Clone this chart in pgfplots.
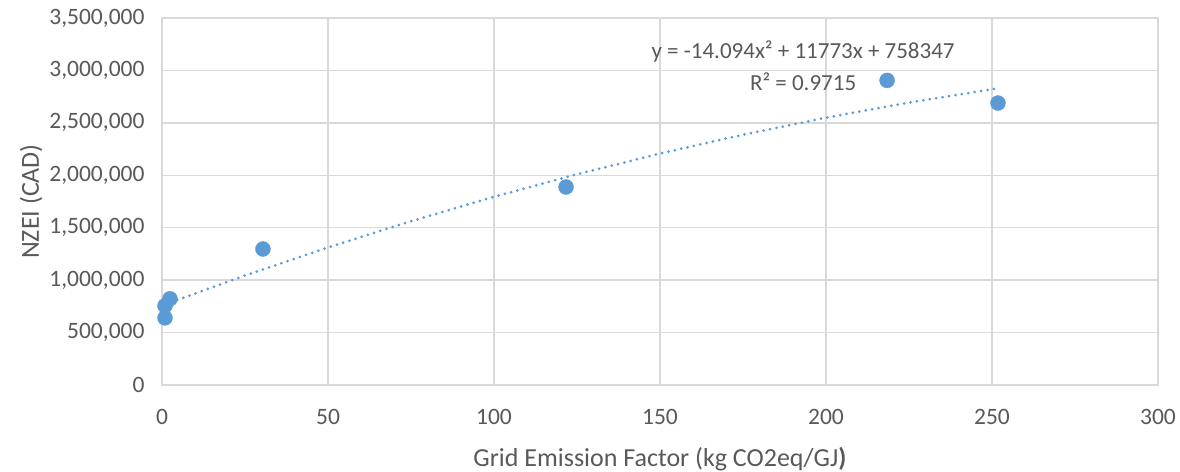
\documentclass[border=0pt]{standalone}
\usepackage{pgfplots}
\pgfplotsset{compat=1.18}
\usepackage{fontspec}
\setmainfont{Carlito}
\definecolor{txt}{HTML}{595959}
\definecolor{gridc}{HTML}{D9D9D9}
\definecolor{ptc}{HTML}{5B9BD5}
\begin{document}
\begin{tikzpicture}[x=1pt,y=1pt]
\useasboundingbox (0,0) rectangle (1180,471);
\begin{axis}[
  at={(162pt,86pt)}, anchor=south west,
  scale only axis, width=996pt, height=367pt,
  xmin=0, xmax=300, ymin=0, ymax=3500000,
  xtick={0,50,...,300},
  ytick={0,500000,...,3500000},
  scaled y ticks=false,
  /pgf/number format/assume math mode=true,
  yticklabel style={/pgf/number format/fixed,/pgf/number format/1000 sep={,}},
  grid=major,
  major grid style={gridc, line width=1.3pt},
  axis line style={gridc, line width=1.3pt},
  tick style={draw=none},
  tick label style={font=\fontsize{23.5}{26}\selectfont, text=txt},
  yticklabel style={xshift=-14pt},
  xticklabel style={yshift=-21pt},
  xlabel={Grid Emission Factor (kg CO2eq/GJ{\bfseries )}},
  ylabel={NZEI (CAD)},
  label style={text=txt, font=\fontsize{26}{30}\selectfont},
  xlabel style={yshift=-15pt},
  ylabel style={yshift=0pt},
  clip=false,
]
% quadratic trendline, tabulated
\addplot[ptc, line width=3pt, dash pattern=on 0pt off 6.5pt, line cap=round] coordinates {
  (0.9,768930) (25,1043863) (50,1311762) (75,1562043) (100,1794707)
  (125,2009753) (150,2207182) (175,2386993) (200,2549187) (225,2693763)
  (252,2830118)
};
% observations
\addplot[only marks, mark=*, mark size=7.5pt, mark options={fill=ptc, draw=ptc}] coordinates {
  (0.9,640000) (0.9,755000) (2.4,822000) (30.4,1297000)
  (121.7,1888000) (218.4,2905000) (251.8,2689000)
};
\node[text=txt, font=\fontsize{23}{26}\selectfont] at (axis cs:193.1,3176000) {y = -14.094x² + 11773x + 758347};
\node[text=txt, font=\fontsize{23}{26}\selectfont] at (axis cs:193.1,2890000) {R² = 0.9715};
\end{axis}
\end{tikzpicture}
\end{document}
